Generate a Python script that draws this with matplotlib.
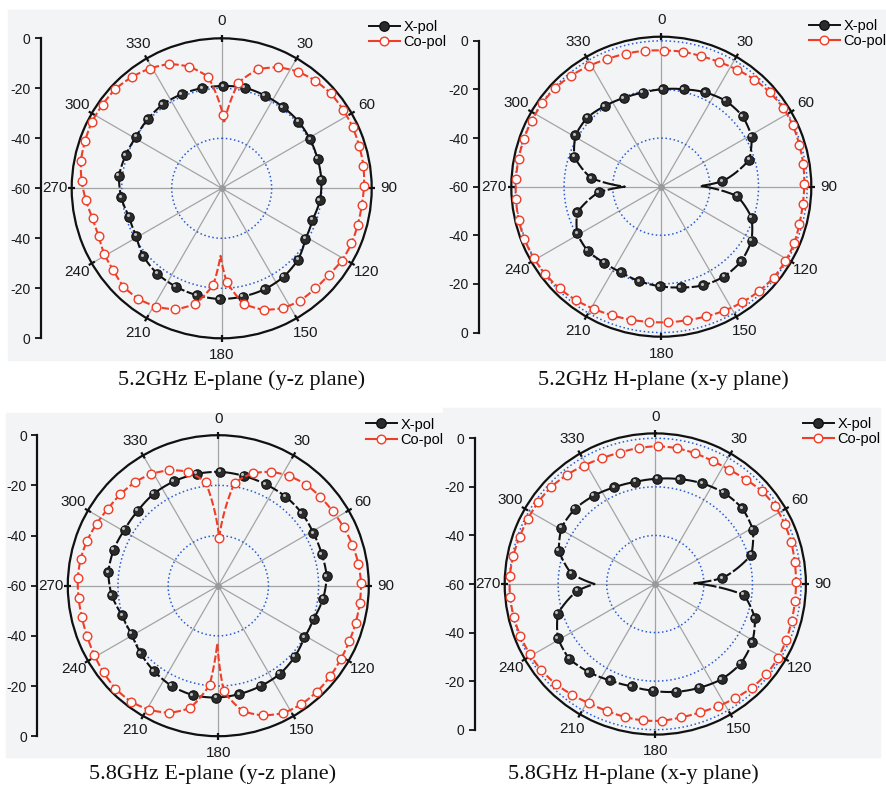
import numpy as np
import matplotlib.pyplot as plt
from matplotlib.lines import Line2D
from matplotlib.patches import Rectangle
from matplotlib.transforms import ScaledTranslation

plt.rcParams['font.family'] = ['Liberation Sans', 'DejaVu Sans']

W, H = 886, 788

# marker angles (deg): Co-pol every 8 deg, X-pol every 12 deg
co_ang = np.arange(1, 360, 8)
x_ang = np.arange(1, 360, 12)

# ---- 5.2GHz E-plane ----
e52_co = [-30.7, -17.2, -10.2, -6.6, -4.3, -3.0, -2.2, -2.2, -2.2, -2.5, -2.6, -3.1,
          -3.6, -3.7, -3.6, -3.9, -5.0, -5.2, -5.2, -6.2, -8.6, -12.8, -22.6,
          -21.2, -12.5, -8.1, -5.9, -4.6, -4.4, -5.7, -6.2, -7.3, -7.0, -5.5, -3.9,
          -2.6, -2.2, -1.7, -1.8, -1.8, -2.8, -4.1, -6.0, -9.6, -15.0]
e52_co_null = ([2, 181], [-34.0, -33.0])
e52_x = [-19.1, -18.7, -19.1, -19.3, -19.3, -19.6, -19.9, -20.0, -20.4, -21.6,
         -20.9, -18.2, -16.8, -16.1, -15.9, -15.7, -16.1, -16.6, -17.2, -18.5,
         -20.9, -21.3, -19.6, -18.6, -19.4, -20.1, -19.5, -19.0, -19.1, -19.2]
e52_x_null = ([], [])

# ---- 5.2GHz H-plane ----
h52_co = [-4.0, -3.8, -3.9, -3.5, -2.7, -1.6, -0.9, -0.3, -0.3, -0.7, -0.9, -1.2,
          -1.4, -1.2, -0.6, -0.5, -0.6, -1.2, -2.0, -2.8, -3.6, -4.1, -4.2,
          -4.2, -3.9, -3.4, -2.6, -1.6, -0.8, -0.3, 0.1, 0.3, 0.2, 0.0, -0.2,
          -0.2, -0.2, -0.2, -0.2, -0.4, -1.2, -2.1, -3.0, -3.4, -3.7]
h52_co_null = ([], [])
h52_x = [-19.9, -18.9, -17.2, -15.8, -15.7, -17.5, -22.2, -34.8, -28.6, -20.7,
         -16.7, -15.0, -14.9, -15.9, -17.8, -19.1, -20.1, -21.1, -20.9, -19.8,
         -20.4, -23.8, -34.2, -30.9, -22.1, -18.8, -18.3, -19.5, -20.4, -20.6]
h52_x_null = ([89, 270], [-44.0, -45.0])

# ---- 5.8GHz E-plane ----
e58_co = [-41.0, -18.4, -13.1, -9.9, -7.9, -6.6, -6.1, -5.6, -4.9, -4.1, -3.5, -3.1,
          -3.2, -3.3, -3.3, -3.1, -2.6, -2.3, -2.3, -3.0, -5.3, -9.0, -17.8,
          -20.3, -9.9, -5.7, -3.4, -2.1, -2.0, -2.7, -3.4, -4.0, -4.2, -4.1, -3.9,
          -4.1, -4.7, -5.6, -6.4, -6.6, -7.0, -8.0, -10.0, -12.9, -18.3]
e58_co_null = ([181], [-37.0])
e58_x = [-14.6, -15.1, -15.4, -15.5, -15.9, -16.7, -16.9, -16.6, -17.9, -19.8,
         -20.0, -18.4, -17.1, -16.6, -16.0, -15.4, -15.2, -15.9, -17.4, -19.0,
         -20.5, -19.9, -17.3, -15.8, -15.9, -16.5, -16.2, -15.2, -14.8, -14.6]
e58_x_null = ([], [])

# ---- 5.8GHz H-plane ----
h58_co = [-3.3, -3.4, -3.8, -4.2, -4.0, -3.1, -1.8, -1.2, -1.3, -1.5, -1.9, -2.1,
          -2.1, -1.9, -1.4, -1.0, -1.1, -1.7, -2.7, -3.5, -4.1, -4.1, -3.7,
          -3.6, -3.9, -4.1, -3.9, -3.0, -1.9, -1.2, -0.8, -0.5, -0.2, 0.0, 0.0,
          -0.4, -0.9, -1.1, -1.2, -1.4, -2.2, -3.1, -3.8, -4.0, -3.6]
h58_co_null = ([], [])
h58_x = [-16.7, -15.7, -14.3, -13.0, -12.5, -14.0, -18.6, -32.3, -23.2, -16.6,
         -13.4, -11.9, -12.2, -13.6, -14.8, -16.0, -16.8, -16.2, -14.6, -13.0,
         -14.1, -18.0, -27.7, -25.2, -18.0, -14.9, -14.7, -15.7, -16.8, -17.2]
h58_x_null = ([89, 270], [-44.0, -35.0])

RED = '#ef3e28'
GRAYBG = '#f3f4f6'


def merge(ang, val, extra):
    a = np.concatenate([ang, extra[0]]).astype(float)
    v = np.concatenate([val, extra[1]]).astype(float)
    o = np.argsort(a)
    a, v = a[o], v[o]
    # close the loop
    a = np.append(a, a[0] + 360)
    v = np.append(v, v[0])
    return np.deg2rad(a), v


fig = plt.figure(figsize=(W / 100, H / 100), dpi=100)

# panel backgrounds
for (x0, y0, x1, y1) in [(8, 10, 443, 360), (443, 10, 886, 360),
                         (6, 413, 443, 757), (443, 408, 880, 757)]:
    fig.patches.append(Rectangle((x0 / W, 1 - y1 / H), (x1 - x0) / W, (y1 - y0) / H,
                                 transform=fig.transFigure, color=GRAYBG, zorder=-10))


def panel(cx, cy, R, rmax, spine_x, leg, caption, cap, co, co_null, xp, xp_null):
    ax = fig.add_axes([(cx - R) / W, (H - cy - R) / H, 2 * R / W, 2 * R / H],
                      projection='polar')
    ax.set_theta_zero_location('N')
    ax.set_theta_direction(-1)
    ax.set_ylim(-60, rmax)
    ax.set_facecolor('none')
    ax.grid(False)
    ax.set_xticks([])
    ax.set_yticks([])
    ax.spines['polar'].set_linewidth(1.6)
    ax.spines['polar'].set_color('#111111')

    span = 60 + rmax
    d = 3.5 * span / R
    for t in range(0, 360, 30):
        ax.plot([np.deg2rad(t)] * 2, [-60, rmax], color='#a4a4a4', lw=0.9, zorder=1)
        ax.plot([np.deg2rad(t)] * 2, [rmax - d, rmax + d], color='#111111', lw=1.6,
                zorder=3, clip_on=False, solid_capstyle='butt')
        k = 167 / R
        ax.text(0.5 + 0.5 * k * np.sin(np.deg2rad(t)), 0.5 + 0.5 * k * np.cos(np.deg2rad(t)),
                str(t), transform=ax.transAxes, ha='center', va='center',
                fontsize=11, color='#1a1a1a')
    th = np.linspace(0, 2 * np.pi, 361)
    for r in [0, -20, -40]:
        ax.plot(th, np.full_like(th, r), ls=(0, (1, 1.7)), color='#2a5bd0', lw=1.1, zorder=2)
    ax.plot([0], [-60], 'o', ms=4, color='#9a9a9a', zorder=2)

    # X-pol (black balls)
    t, v = merge(x_ang, xp, xp_null)
    ln, = ax.plot(t, v, color='#111111', lw=1.5, ls=(0, (9, 1.2)), zorder=4)
    ln._path._interpolation_steps = 24
    tm = np.deg2rad(x_ang)
    ax.plot(tm, xp, 'o', ms=6.8, mfc='#2b2b2b', mec='#111111', mew=0.8, zorder=4.5)
    ax.plot(tm, xp, 'o', ms=2.2, color='#bdbdbd', mew=0, zorder=5,
            transform=ax.transData + ScaledTranslation(-1.1 / 72, 1.1 / 72, fig.dpi_scale_trans))

    # Co-pol (red open circles)
    t, v = merge(co_ang, co, co_null)
    ln, = ax.plot(t, v, color=RED, lw=1.5, ls=(0, (3.5, 1.3)), zorder=6)
    ln._path._interpolation_steps = 24
    ax.plot(np.deg2rad(co_ang), co, 'o', ms=6.2, mfc='#fbfbfb', mec=RED, mew=1.0,
            zorder=6.5)

    # linear dB scale on the left
    la = fig.add_axes([spine_x / W, (H - cy - R) / H, 0.001, 2 * R / H])
    la.set_ylim(-span, span)
    la.patch.set_visible(False)
    for s in ['top', 'right', 'bottom']:
        la.spines[s].set_visible(False)
    la.spines['left'].set_bounds(-60, 60)
    la.spines['left'].set_linewidth(1.6)
    la.spines['left'].set_color('#111111')
    la.set_xticks([])
    la.set_yticks([60, 40, 20, 0, -20, -40, -60])
    la.set_yticklabels(['0', '-20', '-40', '-60', '-40', '-20', '0'])
    la.tick_params(axis='y', length=4.5, width=1.3, labelsize=10, pad=3,
                   colors='#111111', labelcolor='#1a1a1a')

    hx = Line2D([], [], color='#111111', lw=1.4, marker='o', ms=6.8,
                mfc='#2b2b2b', mec='#111111')
    hc = Line2D([], [], color=RED, lw=1.5, marker='o', ms=6.2, mfc='#fbfbfb', mec=RED)
    fig.legend([hx, hc], ['X-pol', 'Co-pol'], loc='upper left',
               bbox_to_anchor=(leg[0] / W, 1 - leg[1] / H), frameon=False,
               fontsize=10.5, handlelength=2.1, handletextpad=0.25,
               labelspacing=0.1, borderpad=0, borderaxespad=0)

    fig.text(cap[0] / W, 1 - cap[1] / H, caption, ha='center', va='center',
             family='Liberation Serif', fontsize=16, color='#111111')


panel(221.7, 188.3, 150, 0.0, 40.7, (369, 20), '5.2GHz E-plane (y-z plane)', (242, 380),
      e52_co, e52_co_null, e52_x, e52_x_null)
panel(661.3, 186.7, 150, 1.7, 479, (809, 19), '5.2GHz H-plane (x-y plane)', (663, 380),
      h52_co, h52_co_null, h52_x, h52_x_null)
panel(218.3, 585.7, 150.5, 0.0, 37.3, (366, 417.5), '5.8GHz E-plane (y-z plane)', (213, 774),
      e58_co, e58_co_null, e58_x, e58_x_null)
panel(655.3, 584.0, 150.6, 2.0, 474.7, (803, 417), '5.8GHz H-plane (x-y plane)', (633, 774),
      h58_co, h58_co_null, h58_x, h58_x_null)

fig.savefig('out.png', dpi=100)
